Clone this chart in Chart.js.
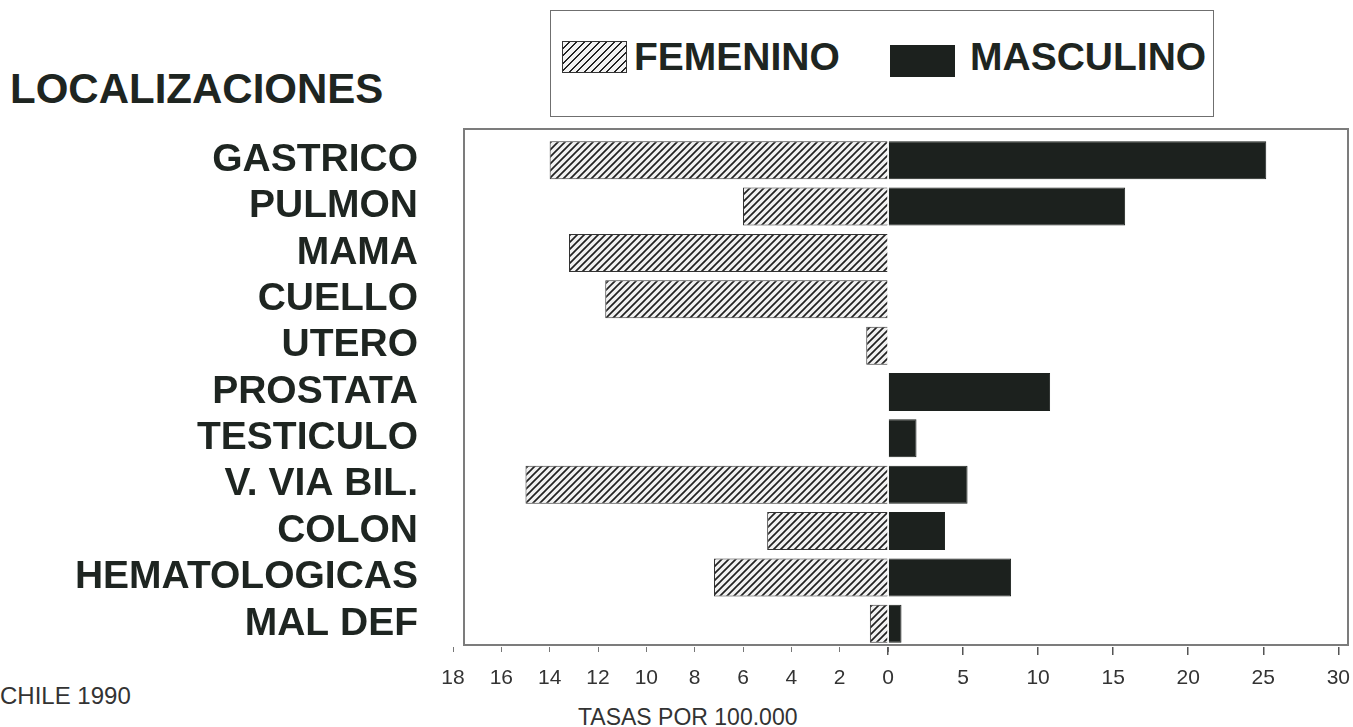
<!DOCTYPE html>
<html lang="es">
  <head>
    <meta charset="UTF-8" />
    <title>Localizaciones - Chile 1990</title>
    <script src="https://cdn.jsdelivr.net/npm/chart.js"></script>
    <style>
      body {
        margin: 0;
        width: 1353px;
        height: 727px;
        position: relative;
        overflow: hidden;
        background: #fff;
        font-family: "Liberation Sans", Arial, sans-serif;
        color: #1e2521;
      }
      .abs { position: absolute; white-space: nowrap; }
      .big { font-weight: bold; font-size: 39px; line-height: 39px; }
      #frame { left: 463px; top: 128px; width: 886px; height: 518px; border: 2px solid #7c7c7c; box-sizing: border-box; }
      #legend { left: 550px; top: 10px; width: 664px; height: 107px; border: 1.5px solid #6f6f6f; box-sizing: border-box; }
      .sw { position: absolute; box-sizing: border-box; }
    </style>
  </head>
  <body>
    <div id="frame" class="abs"></div>

    <div id="legend" class="abs"></div>
    <div class="sw" style="left:562px;top:41px;width:65px;height:32px;border:1px solid #333;background:repeating-linear-gradient(135deg,#f2f2f2 0 3.6px,#222 3.6px 5.3px);"></div>
    <div class="abs big" style="left:634px;top:37px;">FEMENINO</div>
    <div class="sw" style="left:890px;top:45px;width:65px;height:32px;background:#1c211e;"></div>
    <div class="abs big" style="left:970px;top:37px;">MASCULINO</div>

    <div class="abs" style="left:10px;top:68px;font-weight:bold;font-size:42px;line-height:42px;">LOCALIZACIONES</div>
    <div class="abs" style="left:0px;top:684px;font-size:24px;line-height:24px;color:#333;">CHILE 1990</div>
    <div class="abs" style="left:578px;top:706px;font-size:23px;line-height:23px;color:#333;">TASAS POR 100.000</div>

    <div class="abs" style="left:0;top:0;width:920px;height:727px;"><canvas id="izq"></canvas></div>
    <div class="abs" style="left:860px;top:0;width:501px;height:727px;"><canvas id="der"></canvas></div>

    <script>
      const categorias = ["GASTRICO", "PULMON", "MAMA", "CUELLO", "UTERO", "PROSTATA", "TESTICULO", "V. VIA BIL.", "COLON", "HEMATOLOGICAS", "MAL DEF"];
      const femenino = [14.0, 6.0, 13.2, 11.7, 0.9, null, null, 15.0, 5.0, 7.2, 0.75];
      const masculino = [25.2, 15.8, null, null, null, 10.8, 1.9, 5.3, 3.8, 8.2, 0.9];
      const ticksFem = [18, 16, 14, 12, 10, 8, 6, 4, 2, 0];
      const ticksMasc = [0, 5, 10, 15, 20, 25, 30];

      Chart.defaults.font.family = "'Liberation Sans', Arial, sans-serif";

      // rayado diagonal para femenino
      function rayado() {
        const c = document.createElement("canvas");
        c.width = 7;
        c.height = 7;
        const g = c.getContext("2d");
        g.fillStyle = "#f2f2f2";
        g.fillRect(0, 0, 7, 7);
        g.strokeStyle = "#222";
        g.lineWidth = 1.7;
        g.beginPath();
        g.moveTo(0, 7); g.lineTo(7, 0);
        g.moveTo(-2, 2); g.lineTo(2, -2);
        g.moveTo(5, 9); g.lineTo(9, 5);
        g.stroke();
        return g.createPattern(c, "repeat");
      }

      const comunes = {
        indexAxis: "y",
        responsive: true,
        maintainAspectRatio: false,
        animation: false,
        plugins: { legend: { display: false }, tooltip: { enabled: false } },
      };

      new Chart(document.getElementById("izq"), {
        type: "bar",
        data: {
          labels: categorias,
          datasets: [{
            label: "FEMENINO",
            data: femenino,
            backgroundColor: rayado(),
            borderColor: "#333",
            borderWidth: 1,
            barPercentage: 0.82,
            categoryPercentage: 1,
          }],
        },
        options: {
          ...comunes,
          layout: { padding: { top: 137, right: 32, left: 0, bottom: 0 } },
          scales: {
            x: {
              type: "linear",
              reverse: true,
              min: 0,
              max: 18,
              afterFit: (s) => { s.height = 80; },
              afterBuildTicks: (s) => { s.ticks = ticksFem.map((v) => ({ value: v })); },
              border: { display: false },
              grid: { drawOnChartArea: false, tickLength: 5, color: "#777", lineWidth: 1 },
              ticks: { padding: 14, color: "#333", font: { size: 21 } },
            },
            y: {
              afterFit: (s) => { s.width = 453; },
              border: { display: false },
              grid: { display: false, drawTicks: false },
              ticks: { autoSkip: false, padding: 35, color: "#1e2521", font: { size: 39, weight: "bold" } },
            },
          },
        },
      });

      new Chart(document.getElementById("der"), {
        type: "bar",
        data: {
          labels: categorias,
          datasets: [{
            label: "MASCULINO",
            data: masculino,
            backgroundColor: "#1c211e",
            borderColor: "#1c211e",
            borderWidth: 1,
            barPercentage: 0.82,
            categoryPercentage: 1,
          }],
        },
        options: {
          ...comunes,
          layout: { padding: { top: 137, right: 15, left: 28, bottom: 0 } },
          scales: {
            x: {
              type: "linear",
              min: 0,
              max: 30,
              afterFit: (s) => { s.height = 80; },
              afterBuildTicks: (s) => { s.ticks = ticksMasc.map((v) => ({ value: v })); },
              border: { display: false },
              grid: { drawOnChartArea: false, tickLength: 8, color: "#555", lineWidth: 1.5 },
              ticks: {
                padding: 11,
                color: "#333",
                font: { size: 21 },
                callback: (v) => (v === 0 ? "" : v),
              },
            },
            y: { display: false },
          },
        },
      });
    </script>
  </body>
</html>
